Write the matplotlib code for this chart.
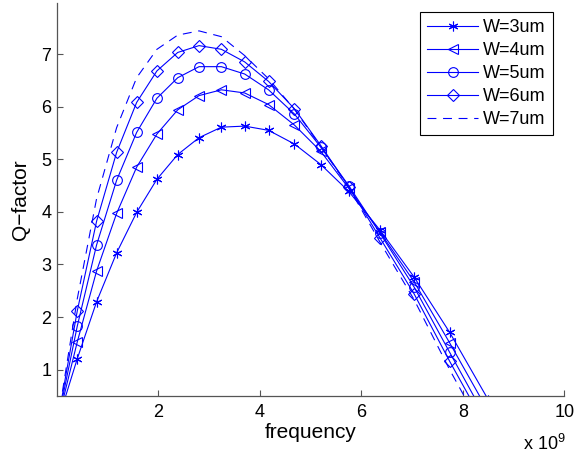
import numpy as np
import matplotlib
matplotlib.use("Agg")
import matplotlib.pyplot as plt
from matplotlib.ticker import FuncFormatter

plt.rcParams['font.family'] = ['Liberation Sans', 'DejaVu Sans']
plt.rcParams['mathtext.fontset'] = 'custom'
plt.rcParams['mathtext.rm'] = 'Liberation Sans'
plt.rcParams['mathtext.it'] = 'Liberation Sans'

# frequency points (in units of 1e9 Hz)
freq_g = [0.01, 0.40, 0.78, 1.175, 1.57, 1.97, 2.38, 2.80, 3.24, 3.70,
          4.17, 4.68, 5.20, 5.75, 6.37, 7.04, 7.74, 8.50]

# Q-factor for each width
q_w3 = [0.0, 1.21, 2.29, 3.22, 3.99, 4.62, 5.09, 5.41, 5.61, 5.63,
        5.55, 5.29, 4.90, 4.39, 3.65, 2.76, 1.71, 0.43]
q_w4 = [0.0, 1.53, 2.875, 3.97, 4.85, 5.48, 5.94, 6.21, 6.32, 6.26,
        6.04, 5.65, 5.15, 4.45, 3.61, 2.67, 1.51, 0.21]
q_w5 = [0.0, 1.83, 3.37, 4.60, 5.51, 6.16, 6.55, 6.76, 6.76, 6.62,
        6.32, 5.86, 5.23, 4.50, 3.59, 2.57, 1.33, 0.0]
q_w6 = [0.0, 2.12, 3.82, 5.13, 6.08, 6.68, 7.03, 7.16, 7.09, 6.85,
        6.48, 5.96, 5.26, 4.48, 3.50, 2.44, 1.16, -0.16]
q_w7 = [0.0, 2.35, 4.25, 5.60, 6.55, 7.09, 7.36, 7.44, 7.33, 6.97,
        6.53, 5.95, 5.24, 4.47, 3.42, 2.33, 1.00, -0.33]

labels = ['W=3um', 'W=4um', 'W=5um', 'W=6um', 'W=7um']
x_ticks = [2, 4, 6, 8, 10]
y_ticks = [1, 2, 3, 4, 5, 6, 7]

freq = np.array(freq_g) * 1e9

fig = plt.figure(figsize=(5.75, 4.57), dpi=100)
ax = fig.add_axes([57 / 575, 61 / 457, 507.3 / 575, 393 / 457])

blue = (0, 0, 1)
lw = 0.8
ax.plot(freq, q_w3, color=blue, lw=lw, marker=(6, 2, 0), ms=7, mew=0.8, label=labels[0])
ax.plot(freq, q_w4, color=blue, lw=lw, marker='<', ms=7.5, mfc='none', mew=0.8, label=labels[1])
ax.plot(freq, q_w5, color=blue, lw=lw, marker='o', ms=7, mfc='none', mew=0.8, label=labels[2])
ax.plot(freq, q_w6, color=blue, lw=lw, marker='D', ms=6, mfc='none', mew=0.8, label=labels[3])
ax.plot(freq, q_w7, color=blue, lw=lw, ls=(0, (8, 6)), label=labels[4])

ax.set_xlim(0, 10e9)
ax.set_ylim(0.5, 7.97)
ax.set_xticks([t * 1e9 for t in x_ticks])
ax.set_yticks(y_ticks)
ax.xaxis.set_major_formatter(FuncFormatter(lambda v, p: f'{v / 1e9:g}'))

for s in ['top', 'right']:
    ax.spines[s].set_visible(False)
for s in ['left', 'bottom']:
    ax.spines[s].set_color('#555555')
    ax.spines[s].set_linewidth(0.9)
ax.tick_params(direction='in', length=4, width=0.8, color='#555555', labelsize=13)
ax.tick_params(axis='x', pad=6)
ax.tick_params(axis='y', pad=4)

ax.set_xlabel('frequency', fontsize=15, labelpad=1)
ax.set_ylabel('Q\u2212factor', fontsize=15, labelpad=8)

ax.text(1.002, -0.137, 'x 10$^{9}$', transform=ax.transAxes, ha='right',
        va='baseline', fontsize=13)

leg = ax.legend(loc='upper right', bbox_to_anchor=(0.978, 0.977), borderaxespad=0,
                fontsize=13, fancybox=False, framealpha=1, edgecolor='black',
                handlelength=2.8, labelspacing=0.33, handletextpad=0.3,
                borderpad=0.4)
leg.get_frame().set_linewidth(0.8)

fig.savefig('out.png', dpi=100)
